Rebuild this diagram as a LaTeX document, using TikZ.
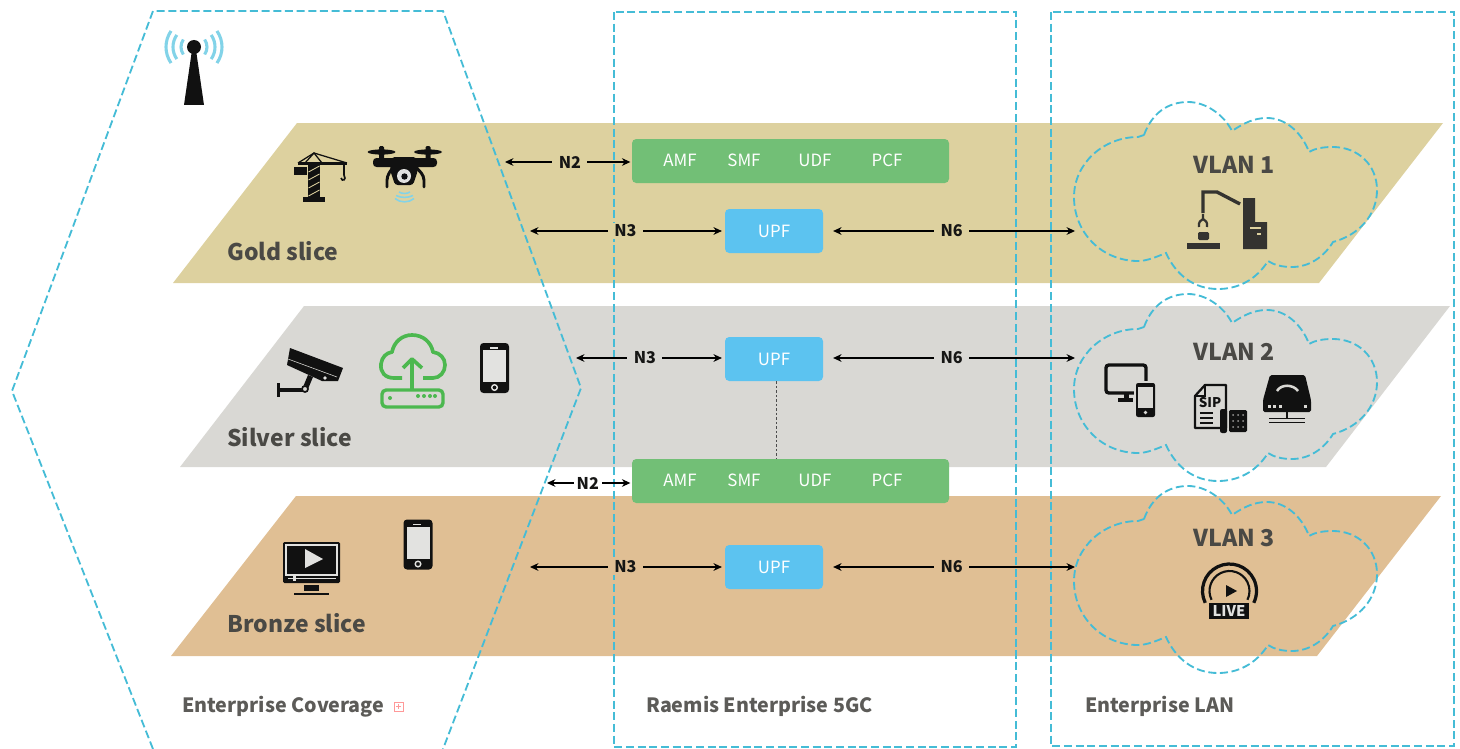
\documentclass[tikz,border=0pt]{standalone}
\usepackage{fontspec}
\setmainfont{Noto Sans CJK SC}
\usetikzlibrary{arrows.meta}
\def\pxu{0.025cm}
\definecolor{goldcol}{HTML}{DDD19F}
\definecolor{silvercol}{HTML}{D9D8D4}
\definecolor{bronzecol}{HTML}{E0BF94}
\definecolor{dashcol}{HTML}{45BCD6}
\definecolor{corecol}{HTML}{72BF76}
\definecolor{upfcol}{HTML}{5CC3F0}
\definecolor{inkcol}{HTML}{4A4945}
\definecolor{iconcol}{HTML}{111111}
\definecolor{wavecol}{HTML}{82D3E8}
\definecolor{routercol}{HTML}{4CB84F}
\definecolor{screencol}{HTML}{E2E2E0}
\tikzset{
  zone/.style = {draw = dashcol, line width = 1.3pt, dash pattern = on 5.7pt off 2.6pt},
  corebox/.style = {fill = corecol, rounded corners = 3pt, minimum width = 317*\pxu, minimum height = 44*\pxu, inner sep = 0},
  upfbox/.style = {fill = upfcol, rounded corners = 3pt, minimum width = 98*\pxu, minimum height = 44*\pxu, text = white, font = \fontsize{12}{12}\selectfont, inner sep = 0},
  corename/.style = {text = white, font = \fontsize{12}{12}\selectfont, inner sep = 0},
  slicename/.style = {anchor = west, text = inkcol, inner sep = 0, font = \fontsize{16.3}{18}\selectfont\bfseries},
  vlanname/.style = {text = inkcol, inner sep = 0, font = \fontsize{16.5}{18}\selectfont\bfseries},
  zonename/.style = {anchor = west, text = inkcol!90, inner sep = 0, font = \fontsize{14}{15}\selectfont\bfseries},
  link/.style = {{Stealth[length = 6pt, width = 5.5pt]}-{Stealth[length = 6pt, width = 5.5pt]}, line width = 0.75pt, black},
  linkname/.style = {font = \fontsize{11.5}{12}\selectfont\bfseries, inner xsep = 4.5pt, inner ysep = 1pt, text = inkcol!30!black},
  wave/.style = {wavecol, line width = 2.2pt},
  cloudshape/.pic = {
    \draw[zone] (0, 0) .. controls (8, -22) and (24, -33) .. (44, -33)
      .. controls (62, -33) and (80, -20) .. (88, -4)
      .. controls (100, -12) and (110, -17) .. (123, -17)
      .. controls (142, -17) and (158, -2) .. (165, 17)
      .. controls (172, 13) and (180, 12) .. (189, 12)
      .. controls (214, 12) and (233, 30) .. (233, 55)
      .. controls (233, 80) and (215, 100) .. (189, 107)
      .. controls (180, 122) and (165, 132) .. (148, 132)
      .. controls (138, 132) and (130, 130) .. (124, 126)
      .. controls (112, 145) and (94, 154) .. (74, 154)
      .. controls (50, 154) and (32, 140) .. (22, 118)
      .. controls (12, 122) and (3, 126) .. (-6, 126)
      .. controls (-42, 126) and (-70, 98) .. (-70, 62)
      .. controls (-70, 28) and (-40, 2) .. (-6, 2) -- cycle;
  },
  phone/.pic = {
    \fill[iconcol, rounded corners = 2.5pt] (-14.5, -25) rectangle (14.5, 25);
    \fill[screencol] (-11.5, -18) rectangle (11.5, 14);
    \fill[screencol] (-5, -21) rectangle (3, -19.5);
    \draw[screencol, line width = 1pt] (0, 19.5) circle[radius = 2.8*\pxu];
  }
}
\begin{document}
\begin{tikzpicture}[x = \pxu, y = -\pxu]
  \useasboundingbox (0, 0) rectangle (1460, 749);

  \fill[goldcol] (297, 123) -- (1443, 123) -- (1319, 283) -- (173, 283) -- cycle;
  \fill[silvercol] (304, 306) -- (1450, 306) -- (1326, 467) -- (180, 467) -- cycle;
  \fill[bronzecol] (296, 496) -- (1441, 496) -- (1317, 656) -- (171, 656) -- cycle;

  \draw[zone] (153, 749) -- (12, 391) -- (153, 11) -- (443, 11) -- (581, 388) -- (443, 749);
  \draw[zone] (614, 12) rectangle (1016, 747);
  \draw[zone] (1051, 12) rectangle (1454, 746);
  \pic at (1144, 135) {cloudshape};
  \pic at (1144, 327) {cloudshape};
  \pic at (1144, 519) {cloudshape};

  \node[slicename] (gold) at (227, 251) {Gold slice};
  \node[slicename] (silver) at (227, 437) {Silver slice};
  \node[slicename] (bronze) at (227, 623) {Bronze slice};
  \node[vlanname] (vlan1) at (1234.5, 165) {VLAN 1};
  \node[vlanname] (vlan2) at (1234.5, 352) {VLAN 2};
  \node[vlanname] (vlan3) at (1234.5, 538) {VLAN 3};
  \node[zonename] (coverage) at (182, 706.5) {Enterprise Coverage};
  \node[zonename] (core) at (646, 706) {Raemis Enterprise 5GC};
  \node[zonename] (lan) at (1085, 706) {Enterprise LAN};

  \node[corebox] (coregold) at (790.5, 161) {};
  \node[corebox] (coremid) at (790.5, 481) {};
  \foreach \nf/\xf in {AMF/680, SMF/744, UDF/815, PCF/887} {
    \node[corename] (gold\nf) at (\xf, 160.5) {\nf};
    \node[corename] (mid\nf) at (\xf, 480.5) {\nf};
  }
  \node[upfbox] (upfgold) at (774, 231) {\raisebox{-.6pt}{UPF}};
  \node[upfbox] (upfsilver) at (774, 359) {\raisebox{-.6pt}{UPF}};
  \node[upfbox] (upfbronze) at (774, 567) {\raisebox{-.6pt}{UPF}};

  \coordinate (n2gold) at (505, 162);
  \coordinate (n3gold) at (530, 231);
  \coordinate (n6gold) at (1075, 231);
  \coordinate (n3silver) at (576, 358);
  \coordinate (n6silver) at (1075, 358);
  \coordinate (n2mid) at (547, 483);
  \coordinate (n3bronze) at (530, 567);
  \coordinate (n6bronze) at (1075, 567);

  \draw[link, shorten > = 1pt] (n2gold) -- node[linkname, fill = goldcol, pos = .512] {N2} (n2gold -| coregold.west);
  \draw[link, shorten > = 2pt] (n3gold) -- node[linkname, fill = goldcol, pos = .49] {N3} (upfgold.west);
  \draw[link, shorten < = 7pt] (upfgold.east) -- node[linkname, fill = goldcol, pos = .51] {N6} (n6gold);
  \draw[link, shorten > = 2pt] (n3silver) -- node[linkname, fill = silvercol, pos = .463] {N3} (n3silver -| upfsilver.west);
  \draw[link, shorten < = 7pt] (n6silver -| upfsilver.east) -- node[linkname, fill = silvercol, pos = .51] {N6} (n6silver);
  \draw[link, shorten > = 1pt] (n2mid) -- node[linkname, fill = white, pos = .482, inner xsep = 2pt] {N2} (n2mid -| coremid.west);
  \draw[link, shorten > = 2pt] (n3bronze) -- node[linkname, fill = bronzecol, pos = .49] {N3} (upfbronze.west);
  \draw[link, shorten < = 7pt] (upfbronze.east) -- node[linkname, fill = bronzecol, pos = .51] {N6} (n6bronze);
  \draw[iconcol!75, line width = 0.7pt, dash pattern = on 1.6pt off 1.6pt] ([xshift = 2*\pxu]upfsilver.south) -- ([xshift = 2*\pxu]upfsilver.south |- coremid.north);

  % antenna
  \fill[iconcol] (184, 105) -- (192, 50) -- (196, 50) -- (204, 105) -- cycle;
  \fill[iconcol] (194, 47) circle[radius = 7*\pxu];
  \foreach \rw in {13, 21, 28} {
    \draw[wave] (194, 47) ++(145:\rw*\pxu) arc[start angle = 145, end angle = 215, radius = \rw*\pxu];
    \draw[wave] (194, 47) ++(35:\rw*\pxu) arc[start angle = 35, end angle = -35, radius = \rw*\pxu];
  }

  % crane
  \fill[iconcol] (308, 165) rectangle (320, 197);
  \foreach \yh in {172, 180, 188, 196} {
    \draw[goldcol, line width = 0.6pt] (308.5, \yh) -- (319.5, \yh - 6);
  }
  \fill[iconcol] (303, 197) rectangle (325, 202);
  \fill[iconcol] (294, 167) rectangle (307, 175);
  \fill[iconcol] (298, 162) rectangle (347, 165);
  \draw[iconcol, line width = 0.9pt] (298, 163) -- (314, 153) -- (347, 163);
  \draw[iconcol, line width = 0.9pt] (305, 163) -- (314, 153) -- (322, 163);
  \draw[iconcol, line width = 1.2pt] (344, 164) -- (344, 175) .. controls (347, 180) and (342, 182) .. (341, 178);

  % drone
  \fill[iconcol, rounded corners = 2.5pt] (373, 158) rectangle (437, 167);
  \fill[iconcol, rounded corners = 2pt] (392, 157) -- (416, 157) -- (418, 170) -- (413, 185) -- (395, 185) -- (390, 170) -- cycle;
  \fill[iconcol] (381.5, 152) ellipse[x radius = 14, y radius = 2.6];
  \fill[iconcol] (428, 152) ellipse[x radius = 14, y radius = 2.6];
  \fill[iconcol, rounded corners = 1pt] (379, 146) rectangle (384, 160);
  \fill[iconcol, rounded corners = 1pt] (425.5, 146) rectangle (430.5, 160);
  \draw[iconcol, line width = 2.1pt, line cap = round, rounded corners = 3pt] (387, 187) -- (387, 176) -- (394, 166);
  \draw[iconcol, line width = 2.1pt, line cap = round, rounded corners = 3pt] (424, 187) -- (424, 176) -- (415, 166);
  \fill[screencol] (404, 176) circle[radius = 7*\pxu];
  \fill[iconcol] (404.5, 176.5) circle[radius = 3.2*\pxu];
  \draw[wavecol, line width = 1.1pt] (399, 192) .. controls (402, 194) and (407, 194) .. (410, 192);
  \draw[wavecol, line width = 1.1pt] (396, 195.5) .. controls (401, 198) and (408, 198) .. (413, 195.5);
  \draw[wavecol, line width = 1.1pt] (395, 198.5) .. controls (400, 203) and (409, 203) .. (414, 198.5);

  % camera
  \fill[iconcol] (290, 348) -- (343, 368) -- (338, 381) -- (322, 381) -- (287, 365) -- cycle;
  \draw[silvercol, line width = 0.4pt] (288, 359) -- (337, 377);
  \fill[screencol] (325, 378) circle[radius = 1.8*\pxu];
  \fill[iconcol] (308, 375) -- (313, 377) -- (308, 389) -- (303, 387) -- cycle;
  \fill[iconcol] (277, 383) rectangle (279.5, 397);
  \fill[iconcol] (279, 388) rectangle (304, 392);
  \fill[silvercol] (305, 389) circle[radius = 3.5*\pxu];
  \draw[iconcol, line width = 1.2pt] (305, 389) circle[radius = 3*\pxu];

  % cloud router
  \draw[routercol, line width = 2.6pt, line join = round] (402, 378) -- (394, 378)
    .. controls (385, 378) and (380, 372) .. (381, 364)
    .. controls (382, 357) and (386, 353) .. (392, 352)
    .. controls (394, 342) and (402, 335) .. (412, 335)
    .. controls (423, 335) and (431, 342) .. (433, 352)
    .. controls (440, 353) and (445, 358) .. (445, 365)
    .. controls (445, 372) and (440, 378) .. (433, 378) -- (423, 378);
  \draw[routercol, line width = 2.6pt] (412, 390) -- (412, 360);
  \draw[routercol, line width = 2.6pt, line join = round] (403, 368) -- (412, 359) -- (422, 368);
  \draw[routercol, line width = 2.4pt, rounded corners = 3pt] (382, 390) rectangle (443, 407);
  \fill[routercol] (390, 398) circle[radius = 2*\pxu];
  \foreach \xd in {418, 424, 430, 435} {
    \fill[routercol] (\xd, 396) circle[radius = 2*\pxu];
  }

  \pic at (494.5, 368) {phone};
  \pic at (418, 544.5) {phone};

  % video monitor
  \fill[iconcol, rounded corners = 1pt] (283, 542) rectangle (340, 583);
  \draw[screencol, line width = 0.8pt] (286, 545) rectangle (337, 575);
  \fill[screencol] (305, 549) -- (323, 559) -- (305, 568) -- cycle;
  \draw[screencol, line width = 1.1pt] (288, 578.5) -- (336, 578.5);
  \fill[screencol] (293, 576) rectangle (295.5, 581);
  \fill[iconcol] (304, 585) rectangle (319, 591);
  \fill[iconcol] (294, 593) rectangle (329, 595);

  % robot arm
  \fill[inkcol!70!black] (1243, 198) -- (1255, 198) -- (1255, 222) -- (1267, 222) -- (1267, 249) -- (1243, 249) -- cycle;
  \draw[goldcol, line width = 0.9pt] (1250, 228) -- (1261, 228);
  \draw[goldcol, line width = 0.9pt] (1257, 234) -- (1261, 234);
  \draw[inkcol!70!black, line width = 2.4pt] (1240, 204) -- (1217, 192) -- (1203, 192) -- (1203, 213);
  \draw[inkcol!70!black, line width = 1.6pt] (1203, 214) -- (1203, 219) (1199, 227) .. controls (1198, 222) and (1201, 220) .. (1203, 219) .. controls (1205, 220) and (1208, 222) .. (1207, 227);
  \fill[inkcol!70!black, rounded corners = 1pt] (1198, 232) rectangle (1209, 240);
  \fill[inkcol!70!black] (1187, 243) rectangle (1220, 249);

  % screen and phone
  \draw[iconcol, line width = 2.4pt, rounded corners = 2pt] (1106, 365) rectangle (1146, 393);
  \fill[iconcol] (1124, 393) rectangle (1129, 399);
  \fill[iconcol] (1118, 398) rectangle (1133, 402);
  \fill[silvercol] (1134, 381) rectangle (1157, 419);
  \fill[iconcol, rounded corners = 1.5pt] (1136, 383) rectangle (1155, 417);
  \fill[silvercol] (1138, 387) rectangle (1153, 408);
  \fill[silvercol] (1145.5, 412.5) circle[radius = 1.8*\pxu];

  % sip phone
  \draw[iconcol, line width = 1.6pt, line join = round] (1205, 385) -- (1226, 385) -- (1226, 428) -- (1195, 428) -- (1195, 396) -- cycle;
  \draw[iconcol, line width = 1pt] (1195, 396) -- (1205, 396) -- (1205, 385);
  \node[text = iconcol, inner sep = 0, font = \fontsize{9.5}{10}\selectfont\bfseries] (sip) at (1210, 403) {SIP};
  \foreach \yl in {412, 417, 422} {
    \fill[iconcol] (1200, \yl) rectangle (1213, \yl + 2.4);
  }
  \fill[iconcol, rounded corners = 1.5pt] (1220, 409) rectangle (1227, 433);
  \fill[iconcol, rounded corners = 1pt] (1229, 410) rectangle (1247, 432);
  \foreach \xk in {1233, 1238, 1243} {
    \foreach \yk in {415, 421, 427} {
      \fill[silvercol!70!iconcol] (\xk, \yk) circle[radius = 1*\pxu];
    }
  }

  % modem
  \fill[iconcol, rounded corners = 1.2pt] (1270, 375) -- (1305, 375) -- (1311, 400) -- (1311, 412) -- (1263, 412) -- (1263, 400) -- cycle;
  \draw[silvercol, line width = 1.8pt] (1277, 391) .. controls (1281, 384) and (1293, 384) .. (1298, 391);
  \foreach \xm in {1269, 1274, 1280, 1305} {
    \fill[silvercol] (\xm - 1.5, 404.5) rectangle (\xm + 1.5, 407.5);
  }
  \draw[iconcol, line width = 1.2pt] (1287, 412) -- (1287, 419);
  \draw[iconcol, line width = 1pt] (1269, 418.5) -- (1305, 418.5);
  \draw[iconcol, line width = 1pt] (1269, 422.5) -- (1305, 422.5);

  % live
  \draw[iconcol, line width = 2.3pt] (1229.5, 591) ++(206:27*\pxu) arc[start angle = 206, end angle = -26, radius = 27*\pxu];
  \draw[iconcol, line width = 1.5pt] (1229.5, 591) ++(206:20*\pxu) arc[start angle = 206, end angle = -26, radius = 20*\pxu];
  \fill[iconcol] (1226, 585) -- (1237, 591) -- (1226, 597) -- cycle;
  \node[fill = iconcol, text = screencol, minimum width = 40*\pxu, minimum height = 16*\pxu, inner sep = 0, font = \fontsize{10.5}{10}\selectfont\bfseries] (live) at (1229, 611) {LIVE};

  % marker after the coverage label
  \draw[red!40, line width = 0.5pt] (394, 702) rectangle (403, 711);
  \draw[red!40, line width = 0.5pt] (396, 706.5) -- (401, 706.5) (398.5, 704) -- (398.5, 709);
\end{tikzpicture}
\end{document}
